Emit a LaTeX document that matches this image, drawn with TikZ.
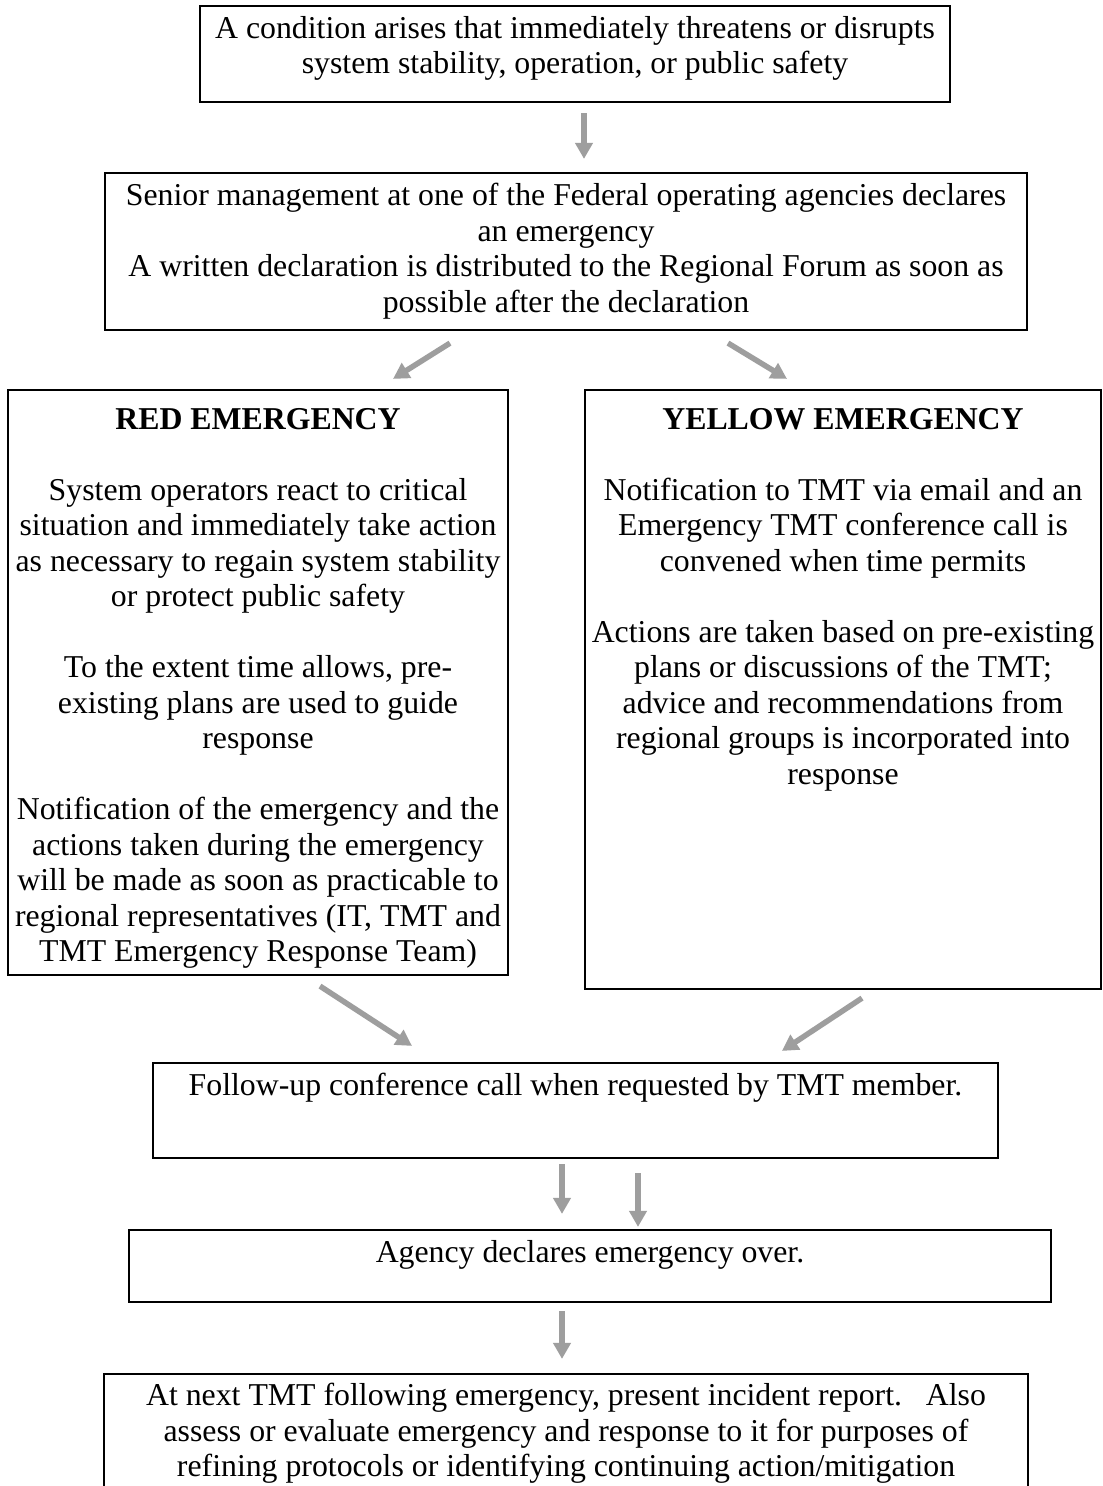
\documentclass[tikz,border=0pt]{standalone}
\usepackage{fontspec}
\setmainfont{Liberation Serif}
\usetikzlibrary{arrows.meta,calc}
\definecolor{arrgray}{RGB}{158,158,158}
\tikzset{
  box/.style={draw=black, line width=2.2pt, inner sep=0pt, rectangle},
  txt/.style={anchor=north, inner sep=0pt, align=center,
              font=\fontsize{31.8pt}{35.5pt}\selectfont},
  arr/.style={draw=arrgray, line width=5.5pt,
              -{Triangle[length=16pt,width=17pt]}}
}
\begin{document}
\begin{tikzpicture}[x=1pt,y=-1pt]
\useasboundingbox (0,0) rectangle (1103,1486);
\clip (0,0) rectangle (1103,1486);
\fill[white] (0,0) rectangle (1103,1486);

% boxes
\node[box, minimum width=750pt, minimum height=96pt] (top) at (575,54) {};
\node[box, minimum width=922pt, minimum height=157pt] (decl) at (566,251.5) {};
\node[box, minimum width=500pt, minimum height=585pt] (red) at (258,682.5) {};
\node[box, minimum width=516pt, minimum height=599pt] (yellow) at (843,689.5) {};
\node[box, minimum width=845pt, minimum height=95pt] (follow) at (575.5,1110.5) {};
\node[box, minimum width=922pt, minimum height=72pt] (agency) at (590,1266) {};
\node[box, minimum width=924pt, minimum height=146pt] (report) at (566,1447) {};

% texts
\node[txt] (toptxt) at (575,16) {A condition arises that immediately threatens or disrupts\\system stability, operation, or public safety};
\node[txt] (decltxt) at (566,183) {Senior management at one of the Federal operating agencies declares\\an emergency\\A written declaration is distributed to the Regional Forum as soon as\\possible after the declaration};
\node[txt] (redtxt) at (258,408) {\textbf{RED EMERGENCY}\\[35.5pt]
System operators react to critical\\situation and immediately take action\\as necessary to regain system stability\\or protect public safety\\[35.5pt]
To the extent time allows, pre-\\existing plans are used to guide\\response\\[35.5pt]
Notification of the emergency and the\\actions taken during the emergency\\will be made as soon as practicable to\\regional representatives (IT, TMT and\\TMT Emergency Response Team)};
\node[txt] (yellowtxt) at (843,408) {\textbf{YELLOW EMERGENCY}\\[35.5pt]
Notification to TMT via email and an\\Emergency TMT conference call is\\convened when time permits\\[35.5pt]
Actions are taken based on pre-existing\\plans or discussions of the TMT;\\advice and recommendations from\\regional groups is incorporated into\\response};
\node[txt] (followtxt) at (575.5,1073) {Follow-up conference call when requested by TMT member.};
\node[txt] (agencytxt) at (590,1240) {Agency declares emergency over.};
\node[txt] (reporttxt) at (566,1383) {At next TMT following emergency, present incident report.\ \ \ Also\\assess or evaluate emergency and response to it for purposes of\\refining protocols or identifying continuing action/mitigation};

% arrows
\draw[arr] ($(top.south)+(9,10)$) -- ($(decl.north)+(18,-13)$);
\draw[arr] ($(decl.south)+(-116,12)$) -- ($(red.north)+(135,-10)$);
\draw[arr] ($(decl.south)+(162,12)$) -- ($(yellow.north)+(-56,-10)$);
\draw[arr] ($(red.south)+(62,10)$) -- ($(follow.north)+(-163.5,-16)$);
\draw[arr] ($(yellow.south)+(19,8)$) -- ($(follow.north)+(206.5,-11)$);
\draw[arr] ($(follow.south)+(-13.5,5)$) -- ($(agency.north)+(-28,-15)$);
\draw[arr] ($(follow.south)+(62.5,14)$) -- ($(agency.north)+(48,-2)$);
\draw[arr] ($(agency.south)+(-28,8)$) -- ($(report.north)+(-4,-14)$);
\end{tikzpicture}
\end{document}
